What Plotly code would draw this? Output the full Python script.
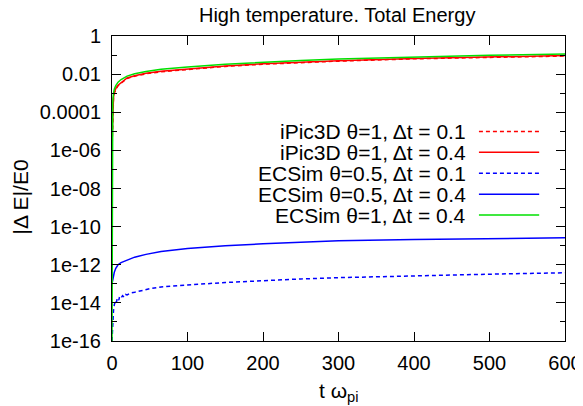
import plotly.graph_objects as go

# ---------------- data ----------------
t_main = [0, 0.5, 1, 2, 3, 5, 8, 12, 20, 30, 45, 65, 100, 150, 200, 250, 300, 400, 500, 600]

ipic_dt01 = [1e-6, 2.2e-5, 1.5e-4, 5.9e-4, 9.8e-4, 1.62e-3, 2.45e-3, 3.4e-3, 5.9e-3, 7.8e-3,
             1.04e-2, 1.33e-2, 1.8e-2, 2.55e-2, 3.3e-2, 4.05e-2, 4.8e-2, 6.35e-2, 7.7e-2, 8.9e-2]
ipic_dt04 = [3.2e-6, 2.5e-5, 1.6e-4, 6.3e-4, 1.05e-3, 1.74e-3, 2.6e-3, 3.6e-3, 6.3e-3, 8.3e-3,
             1.1e-2, 1.41e-2, 1.9e-2, 2.7e-2, 3.47e-2, 4.27e-2, 5.07e-2, 6.7e-2, 8.1e-2, 9.4e-2]
ecsim05_dt04 = [1e-13, 1.26e-13, 1.6e-13, 2.8e-13, 4.0e-13, 6.5e-13, 1.0e-12, 1.3e-12, 1.8e-12, 2.5e-12,
                3.5e-12, 5.0e-12, 7.2e-12, 1.0e-11, 1.26e-11, 1.5e-11, 1.8e-11, 2.1e-11, 2.4e-11, 2.6e-11]
ecsim1_dt04 = [1e-16, 6.3e-5, 3.2e-4, 1.0e-3, 1.6e-3, 2.5e-3, 3.8e-3, 5.2e-3, 7.9e-3, 1.05e-2,
               1.38e-2, 1.78e-2, 2.4e-2, 3.3e-2, 4.27e-2, 5.2e-2, 6.2e-2, 8.1e-2, 9.8e-2, 1.13e-1]

t_ecsim05_dt01 = [0, 0.5, 1, 2, 3, 4, 5, 6, 7, 9, 10, 12, 14, 16, 18, 20, 25, 30, 40, 50, 65, 80,
                  100, 150, 200, 250, 300, 400, 500, 600]
ecsim05_dt01 = [1e-16, 5e-16, 1.26e-15, 4e-15, 7.9e-15, 1.12e-14, 1.4e-14, 1.12e-14, 1.8e-14, 1.4e-14,
                2.1e-14, 1.8e-14, 2.4e-14, 2.0e-14, 2.75e-14, 2.6e-14, 3.3e-14, 3.6e-14, 4.5e-14, 5.5e-14,
                6.8e-14, 7.6e-14, 8.7e-14, 1.17e-13, 1.5e-13, 1.8e-13, 2.1e-13, 2.7e-13, 3.2e-13, 3.8e-13]

series_names = ["iPic3D θ=1, Δt = 0.1", "iPic3D θ=1, Δt = 0.4",
                "ECSim θ=0.5, Δt = 0.1", "ECSim θ=0.5, Δt = 0.4", "ECSim θ=1, Δt = 0.4"]

y_tickvals = [1, 1e-2, 1e-4, 1e-6, 1e-8, 1e-10, 1e-12, 1e-14, 1e-16]
y_ticktext = ["1", "0.01", "0.0001", "1e-06", "1e-08", "1e-10", "1e-12", "1e-14", "1e-16"]
y_minorvals = [1e-1, 1e-3, 1e-5, 1e-7, 1e-9, 1e-11, 1e-13, 1e-15]
x_tickvals = [0, 100, 200, 300, 400, 500, 600]

# ---------------- styles ----------------
FONT = "Liberation Sans, Arial, sans-serif"
FS = 21
FS_TICK = 20
DOT = "4px,3px"
styles = [
    dict(color="#ff0000", dash=DOT),
    dict(color="#ff0000", dash="solid"),
    dict(color="#0000ff", dash=DOT),
    dict(color="#0000ff", dash="solid"),
    dict(color="#00e000", dash="solid"),
]
xs = [t_main, t_main, t_ecsim05_dt01, t_main, t_main]
ys = [ipic_dt01, ipic_dt04, ecsim05_dt01, ecsim05_dt04, ecsim1_dt04]

fig = go.Figure()
for name, x, y, st in zip(series_names, xs, ys, styles):
    fig.add_trace(go.Scatter(x=x, y=y, mode="lines", name=name, showlegend=False,
                             line=dict(color=st["color"], dash=st["dash"], width=1.5)))

# manual legend (text right-aligned, sample line to the right)
leg_y0 = 0.687
leg_dy = 0.0685
for i, (name, st) in enumerate(zip(series_names, styles)):
    yy = leg_y0 - i * leg_dy
    fig.add_annotation(x=0.786, y=yy, xref="paper", yref="paper", text=name, showarrow=False,
                       xanchor="right", yanchor="middle", font=dict(family=FONT, size=FS, color="black"))
    fig.add_shape(type="line", xref="paper", yref="paper", x0=0.81, x1=0.943, y0=yy, y1=yy,
                  line=dict(color=st["color"], dash=st["dash"], width=1.5))

# axis titles
fig.add_annotation(x=-0.202, y=0.472, xref="paper", yref="paper", text="|Δ E|/E0", showarrow=False,
                   textangle=-90, xanchor="center", yanchor="middle",
                   font=dict(family=FONT, size=FS, color="black"))
fig.add_annotation(x=0.5, y=-0.167, xref="paper", yref="paper", text="t ω<sub>pi</sub>", showarrow=False,
                   xanchor="center", yanchor="middle", font=dict(family=FONT, size=FS, color="black"))

axis_common = dict(showline=True, linecolor="black", linewidth=1, mirror="allticks", ticks="inside",
                   ticklen=9, tickwidth=1, tickcolor="black", showgrid=False, zeroline=False,
                   automargin=False,
                   tickfont=dict(family=FONT, size=FS_TICK, color="black"))

# page body adds an 8px offset, so the figure is 8px smaller and margins shifted
fig.update_layout(
    width=575, height=398,
    margin=dict(l=104, r=18, t=28, b=65, autoexpand=False),
    paper_bgcolor="white", plot_bgcolor="white",
    title=dict(text="High temperature. Total Energy", x=0.5725, xanchor="center",
               y=1, yanchor="top", yref="container", pad=dict(t=0, b=0),
               font=dict(family=FONT, size=20, color="black")),
    xaxis=dict(range=[0, 600], tickvals=x_tickvals, ticklabelstandoff=4, **axis_common),
    yaxis=dict(type="log", range=[-16, 0], tickvals=y_tickvals, ticktext=y_ticktext,
               ticklabelstandoff=6,
               minor=dict(tickvals=y_minorvals, ticks="inside", ticklen=5, tickcolor="black"),
               **axis_common),
)

fig.write_html("out.html")
